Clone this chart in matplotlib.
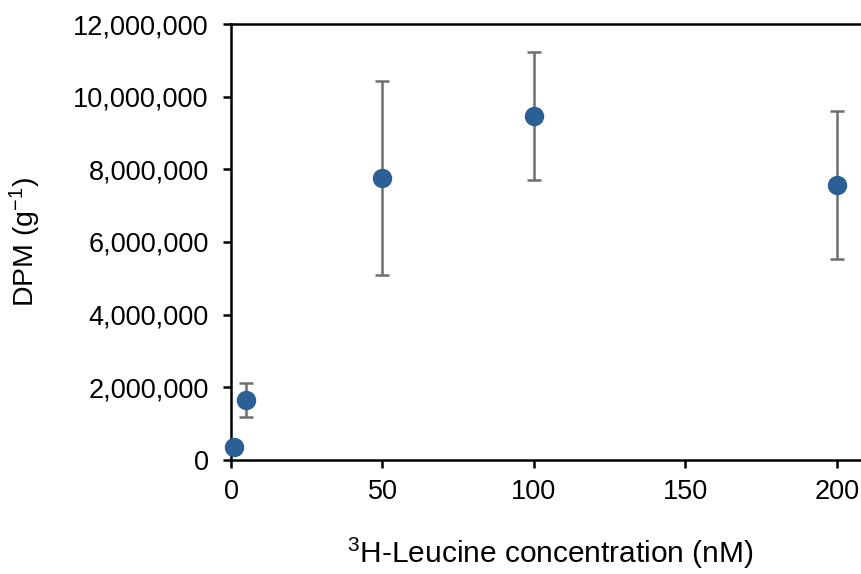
import numpy as np
import matplotlib.pyplot as plt
from matplotlib.ticker import FuncFormatter

# concentration (nM), DPM per g and SD
conc = [1, 5, 50, 100, 200]
dpm = [360000, 1650000, 7760000, 9460000, 7560000]
sd = [0, 470000, 2680000, 1760000, 2040000]

plt.rcParams['font.family'] = ['Liberation Sans', 'DejaVu Sans']
plt.rcParams['mathtext.fontset'] = 'custom'
plt.rcParams['mathtext.rm'] = 'Liberation Sans'
plt.rcParams['mathtext.it'] = 'Liberation Sans:italic'

fig = plt.figure(figsize=(8.62, 5.74), dpi=100)
ax = fig.add_axes([0.268, 0.199, 0.74, 0.759])

ax.errorbar(conc, dpm, yerr=sd, fmt='o', color='#2A6096', ms=13,
            ecolor='#6E6E6E', elinewidth=1.8, capsize=5, capthick=1.8,
            zorder=3, clip_on=False)

ax.set_xlim(0, 208.3 * 0.74 / 0.732)
ax.set_ylim(0, 12000000)
ax.set_xticks([0, 50, 100, 150, 200])
ax.set_yticks(np.arange(0, 12000001, 2000000))
ax.yaxis.set_major_formatter(FuncFormatter(lambda v, p: f'{int(v):,}'))

for s in ['left', 'bottom', 'top']:
    ax.spines[s].set_linewidth(1.8)
ax.spines['right'].set_visible(False)
ax.tick_params(direction='out', length=6, width=1.8, labelsize=19.5)
ax.tick_params(axis='y', pad=10)
ax.tick_params(axis='x', pad=8)

ax.set_xlabel(r'$^{3}$H-Leucine concentration (nM)', fontsize=21.5, labelpad=22)
ax.set_ylabel(r'DPM (g$^{-1}$)', fontsize=20.5, labelpad=22)

fig.savefig('out.png', dpi=100)
